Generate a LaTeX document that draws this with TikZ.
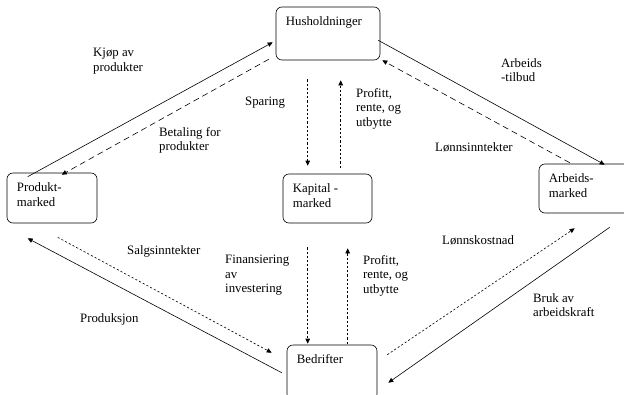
\documentclass[tikz,border=0pt]{standalone}
\usepackage{fontspec}
\setmainfont{Liberation Serif}
\usetikzlibrary{calc,arrows.meta}
\tikzset{
  market/.style={draw, line width=0.6pt, rounded corners=6pt},
  boxtext/.style={anchor=north west, inner sep=10pt, align=left},
  tag/.style={anchor=north west, inner sep=0pt, align=left},
  goods/.style={line width=0.6pt, -{Triangle[length=5pt,width=4.5pt]}},
  money/.style={goods, dash pattern=on 6pt off 4pt},
  fund/.style={goods, dash pattern=on 2.2pt off 2pt},
}

\begin{document}
\begin{tikzpicture}[x=1pt, y=-1pt, font=\fontsize{12.8}{14.5}\selectfont]
			%%%%% START %%%%%
			\useasboundingbox (0,0) rectangle (624,394);
			
			\node[market, minimum width=104pt, minimum height=53pt, label={[boxtext]north west:Husholdninger}] (hus) at (328,33.5) {};
			\node[market, minimum width=90pt, minimum height=50pt, label={[boxtext]north west:Produkt-\\marked}] (prod) at (52,198) {};
			\node[market, minimum width=89pt, minimum height=49pt, label={[boxtext]north west:Kapital -\\marked}] (kap) at (327.5,198.5) {};
			\node[market, minimum width=101pt, minimum height=49pt, label={[boxtext]north west:Arbeids-\\marked}] (arb) at (589.5,188.5) {};
			\node[market, minimum width=90pt, minimum height=55pt, label={[boxtext]north west:Bedrifter}] (bed) at (332,372.5) {};
			
			% produktmarked
			\draw[goods] ($(prod.north west)+(21,4)$) -- ($(hus.south west)+(-3,-18)$);
			\draw[money] ($(hus.south west)+(-7,-1)$) -- ($(prod.north west)+(55,2)$);
			\draw[fund] ($(prod.south west)+(51,14)$) -- ($(bed.north west)+(-15,8)$);
			\draw[goods] ($(bed.north west)+(-5,28)$) -- ($(prod.south west)+(21,15)$);
			
			% kapitalmarked
			\draw[fund] ($(hus.south west)+(32,19)$) -- ($(kap.north west)+(25,-8)$);
			\draw[fund] ($(kap.north west)+(58,-6)$) -- ($(hus.south west)+(65,20)$);
			\draw[fund] ($(kap.south west)+(25,24)$) -- ($(bed.north west)+(21,-1)$);
			\draw[fund] ($(bed.north west)+(61,-1)$) -- ($(kap.south west)+(65,25)$);
			
			% arbeidsmarked
			\draw[goods] ($(hus.south east)+(-2,-20)$) -- ($(arb.north west)+(66,1)$);
			\draw[money] ($(arb.north west)+(31,-1)$) -- ($(hus.south east)+(2,0)$);
			\draw[fund] ($(bed.north east)+(10,10)$) -- ($(arb.south west)+(36,15)$);
			\draw[goods] ($(arb.south west)+(71,14)$) -- ($(bed.north east)+(11,38)$);
			
			\node[tag] (kjop) at (93,48) {Kjøp av\\produkter};
			\node[tag] (betaling) at (159,127) {Betaling for\\produkter};
			\node[tag] (salg) at (127,245) {Salgsinntekter};
			\node[tag] (produksjon) at (80,313) {Produksjon};
			\node[tag] (sparing) at (245,97) {Sparing};
			\node[tag] (profitt1) at (356,88) {Profitt,\\rente, og\\utbytte};
			\node[tag] (finans) at (225,255) {Finansiering\\av\\investering};
			\node[tag] (profitt2) at (363,255) {Profitt,\\rente, og\\utbytte};
			\node[tag] (tilbud) at (501,58) {Arbeids\\-tilbud};
			\node[tag] (lonnsinnt) at (435,142) {Lønnsinntekter};
			\node[tag] (lonnskost) at (442,235) {Lønnskostnad};
			\node[tag] (bruk) at (533,293) {Bruk av\\arbeidskraft};
			
			%%%%% END %%%%%
\end{tikzpicture}
\end{document}
